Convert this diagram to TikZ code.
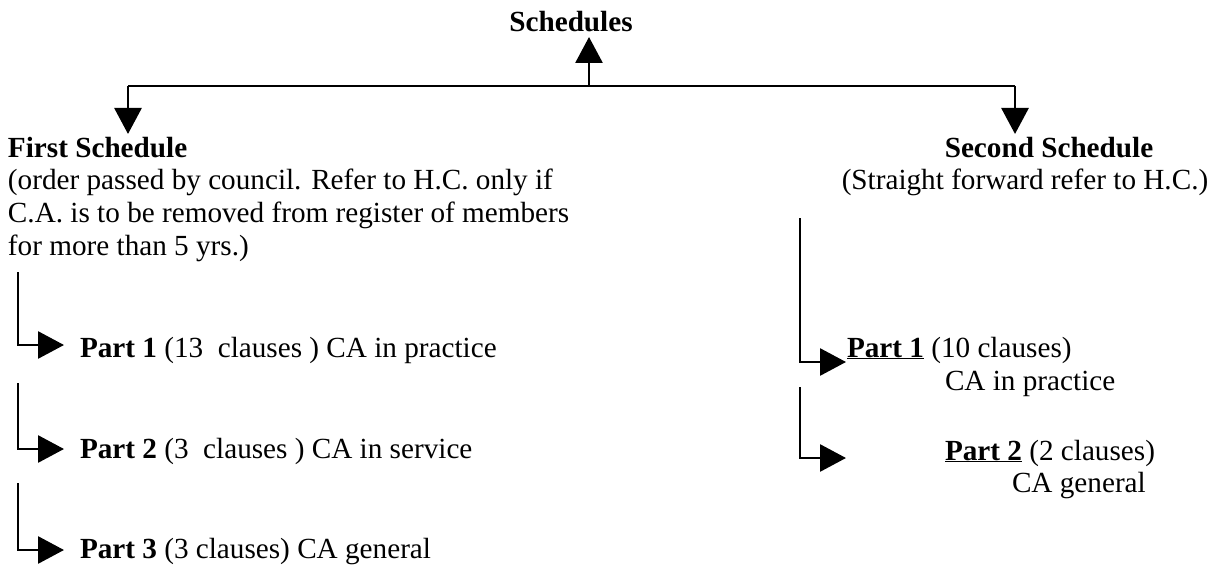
\documentclass[tikz,border=0pt]{standalone}
\usepackage{fontspec}
\setmainfont{Liberation Serif}
\usetikzlibrary{arrows.meta}
\begin{document}
\begin{tikzpicture}[x=1pt,y=-1pt,
  txt/.style={inner sep=0pt,outer sep=0pt,font=\fontsize{29.2}{32.7}\selectfont},
  lw/.style={txt,anchor=base west},
  conn/.style={line width=2.8pt,line join=miter},
  arr/.style={conn,-{Triangle[length=26pt,width=27pt]}}]
\useasboundingbox (0,0) rectangle (1222,567);
% top
\node[txt,anchor=base] (sch) at (571,32) {\textbf{Schedules}};
\coordinate (up) at (589,37);
\coordinate (hm) at (589,86);
\coordinate (hl) at (128,86);
\coordinate (hr) at (1015,86);
\coordinate (dl) at (128,134);
\coordinate (dr) at (1015,134);
\draw[conn] (hl) -- (hr);
\draw[arr] (hm) -- (up);
\draw[arr] (hl) -- (dl);
\draw[arr] (hr) -- (dr);
% first schedule
\node[lw] (fs) at (8,157) {\textbf{First Schedule}};
\node[lw] (fs1) at (8,189.7) {(order passed by council. Refer to H.C. only if};
\node[lw] (fs2) at (8,222.4) {C.A. is to be removed from register of members};
\node[lw] (fs3) at (8,255.1) {for more than 5 yrs.)};
% second schedule
\node[txt,anchor=base] (ss) at (1049,157) {\textbf{Second Schedule}};
\node[txt,anchor=base] (ss1) at (1025,189.7) {(Straight forward refer to H.C.)};
% left parts
\node[lw] (p1) at (80,357) {\textbf{Part 1} (13\ \ clauses ) CA in practice};
\node[lw] (p2) at (80,458) {\textbf{Part 2} (3\ \ clauses ) CA in service};
\node[lw] (p3) at (80,558) {\textbf{Part 3} (3 clauses) CA general};
\coordinate (a1) at (18,272); \coordinate (b1) at (18,345); \coordinate (c1) at (64,345);
\coordinate (a2) at (18,383); \coordinate (b2) at (18,449); \coordinate (c2) at (64,449);
\coordinate (a3) at (18,483); \coordinate (b3) at (18,550); \coordinate (c3) at (64,550);
\draw[arr] (a1) -- (b1) -- (c1);
\draw[arr] (a2) -- (b2) -- (c2);
\draw[arr] (a3) -- (b3) -- (c3);
% right parts
\node[lw] (q1) at (847,357) {\underline{\textbf{Part 1}} (10 clauses)};
\node[lw] (q1b) at (945,390) {CA in practice};
\node[lw] (q2) at (945,460) {\underline{\textbf{Part 2}} (2 clauses)};
\node[lw] (q2b) at (1012,492) {CA general};
\coordinate (d1) at (800,218); \coordinate (e1) at (800,362); \coordinate (f1) at (846,362);
\coordinate (d2) at (800,387); \coordinate (e2) at (800,458); \coordinate (f2) at (846,458);
\draw[arr] (d1) -- (e1) -- (f1);
\draw[arr] (d2) -- (e2) -- (f2);
\end{tikzpicture}
\end{document}
